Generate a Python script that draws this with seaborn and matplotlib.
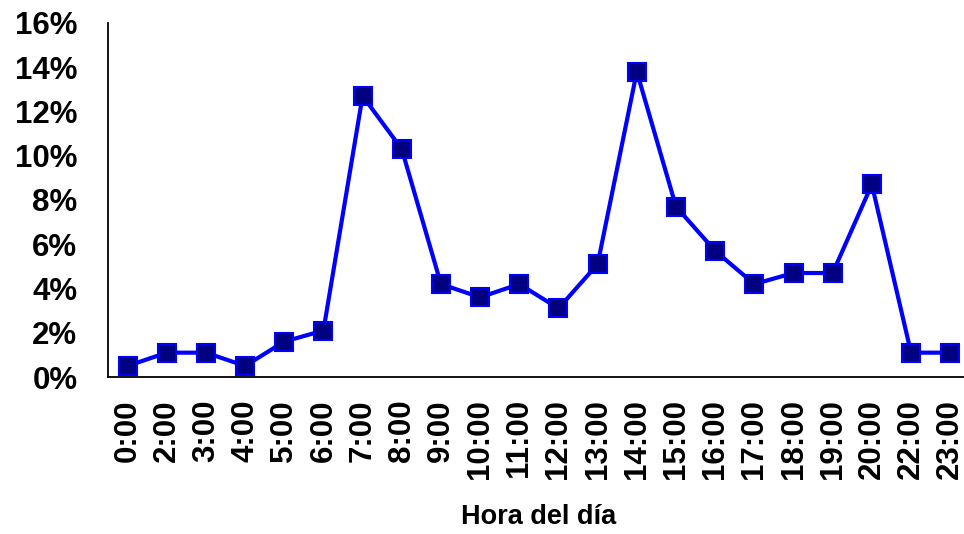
import pandas as pd
import numpy as np
import matplotlib
matplotlib.use('Agg')
import matplotlib.pyplot as plt
import seaborn as sns
from matplotlib.ticker import PercentFormatter

# data
horas = ['0:00', '2:00', '3:00', '4:00', '5:00', '6:00', '7:00', '8:00', '9:00',
         '10:00', '11:00', '12:00', '13:00', '14:00', '15:00', '16:00', '17:00',
         '18:00', '19:00', '20:00', '22:00', '23:00']
porcentaje = [0.5, 1.1, 1.1, 0.5, 1.6, 2.1, 12.7, 10.3, 4.2, 3.6, 4.2, 3.1, 5.1,
              13.8, 7.7, 5.7, 4.2, 4.7, 4.7, 8.7, 1.1, 1.1]
y_ticks = [0, 2, 4, 6, 8, 10, 12, 14, 16]

sns.set_style('white')
plt.rcParams['font.family'] = ['Liberation Sans', 'DejaVu Sans']
plt.rcParams['text.color'] = 'black'
plt.rcParams['xtick.color'] = 'black'
plt.rcParams['ytick.color'] = 'black'
plt.rcParams['axes.labelcolor'] = 'black'

df = pd.DataFrame({'pos': np.arange(len(horas)), 'hora': horas,
                   'valor': np.array(porcentaje) / 100})

fig = plt.figure(figsize=(9.64, 5.34), dpi=100)
ax = fig.add_axes([0.112, 0.294, 0.894, 0.663])

sns.lineplot(data=df, x='pos', y='valor', ax=ax, color='#0000FF', linewidth=3,
             marker='s', markersize=12.5, markerfacecolor='#000080',
             markeredgecolor='#0000FF', markeredgewidth=1.5)

ax.set_xlim(-0.5, len(horas) - 0.5)
ax.set_ylim(0, 0.16)
ax.set_xticks(df['pos'])
ax.set_xticklabels(horas, rotation=90, fontsize=22.5, fontweight='bold')
ax.set_yticks(np.array(y_ticks) / 100)
ax.yaxis.set_major_formatter(PercentFormatter(1.0, decimals=0))
for lab in ax.get_yticklabels():
    lab.set_fontsize(22.5)
    lab.set_fontweight('bold')

ax.tick_params(axis='y', direction='in', length=8, width=1.2, pad=22)
ax.tick_params(axis='x', length=0, pad=16)

ax.set_xlabel('Hora del día', fontsize=19.5, fontweight='bold', labelpad=18)
ax.set_ylabel('')

for s in ['top', 'right']:
    ax.spines[s].set_visible(False)
for s in ['left', 'bottom']:
    ax.spines[s].set_color('black')
    ax.spines[s].set_linewidth(1.3)

fig.savefig('out.png', dpi=100)
